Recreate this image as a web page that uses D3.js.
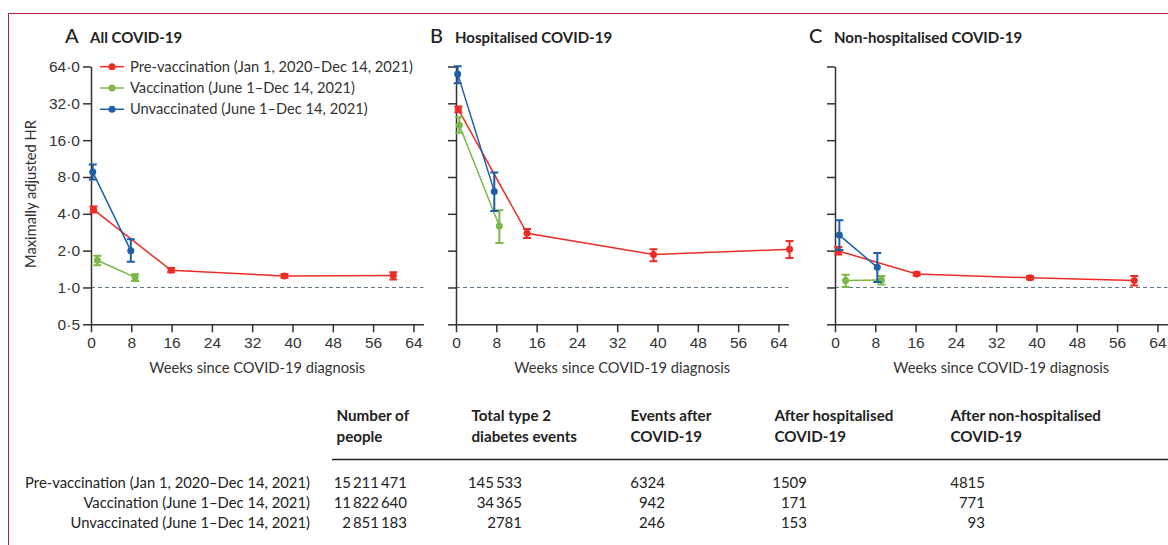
<!DOCTYPE html>
<html>
<head>
<meta charset="utf-8">
<script src="https://cdn.jsdelivr.net/npm/d3@7"></script>
<style>
    body { margin: 0; background: #fff; }
    svg { display: block; font-family: Lato, "Open Sans", sans-serif; }
</style>
</head>
<body>
<div id="chart"></div>
<script>
// axis ticks
var weekTicks = [0, 8, 16, 24, 32, 40, 48, 56, 64];
var hrTicks = [0.5, 1, 2, 4, 8, 16, 32, 64];

// series: [weeks since diagnosis, HR, lower CI, upper CI]
var allPre = [[0.5, 4.33, 4.1, 4.6], [15.9, 1.38, 1.33, 1.44], [38.4, 1.24, 1.2, 1.29], [60, 1.25, 1.16, 1.33]];
var allVac = [[1.25, 1.67, 1.52, 1.82], [8.75, 1.21, 1.13, 1.28]];
var allUnvac = [[0.35, 8.77, 7.64, 10.1], [7.9, 2.0, 1.62, 2.48]];

var hospPre = [[0.46, 28.6, 27.1, 30.1], [14.1, 2.77, 2.54, 3.0], [39.2, 1.86, 1.64, 2.05], [66.2, 2.05, 1.74, 2.4]];
var hospVac = [[0.66, 21.2, 18.4, 24.6], [8.6, 3.18, 2.31, 4.27]];
var hospUnvac = [[0.33, 55.7, 46.7, 64.3], [7.6, 6.1, 4.22, 8.72]];

var nonHospPre = [[0.66, 1.99, 1.86, 2.14], [16.2, 1.29, 1.25, 1.33], [38.7, 1.2, 1.16, 1.24], [59.4, 1.14, 1.04, 1.24]];
var nonHospVac = [[2.1, 1.14, 1.01, 1.27], [9.2, 1.15, 1.06, 1.24]];
var nonHospUnvac = [[0.86, 2.68, 2.02, 3.54], [8.4, 1.46, 1.11, 1.91]];

var seriesNames = ['Pre-vaccination (Jan 1, 2020\u2013Dec 14, 2021)', 'Vaccination (June 1\u2013Dec 14, 2021)', 'Unvaccinated (June 1\u2013Dec 14, 2021)'];
var seriesColors = ['#ec2d26', '#79b845', '#1b5ea9'];

// table
var tableHeaders = [['Number of', 'people'], ['Total type 2', 'diabetes events'], ['Events after', 'COVID-19'], ['After hospitalised', 'COVID-19'], ['After non-hospitalised', 'COVID-19']];
var numPeople = [15211471, 11822640, 2851183];
var totalEvents = [145533, 34365, 2781];
var eventsAfter = [6324, 942, 246];
var afterHosp = [1509, 171, 153];
var afterNonHosp = [4815, 771, 93];

var panels = [
    { letter: 'A', title: 'All COVID-19', left: 91, series: [allPre, allVac, allUnvac] },
    { letter: 'B', title: 'Hospitalised COVID-19', left: 456, series: [hospPre, hospVac, hospUnvac] },
    { letter: 'C', title: 'Non-hospitalised COVID-19', left: 835, series: [nonHospPre, nonHospVac, nonHospUnvac] }
];

var svg = d3.select('#chart').append('svg')
    .attr('width', 1168)
    .attr('height', 545);

// frame
svg.append('path')
    .attr('d', 'M8.5,545V13.5H1168')
    .attr('fill', 'none')
    .attr('stroke', '#c8143f')
    .attr('stroke-width', 1);

var y = d3.scaleLog().base(2).domain([0.5, 64]).range([324.3, 66.5]);
var ink = '#333';

var decimal = function (d) {
    return d3.format('.1f')(d).replace('.', '\u00b7');
};

panels.forEach(function (p, pi) {
    var x = d3.scaleLinear().domain([0, 66]).range([p.left, p.left + 332.5]);
    var g = svg.append('g');

    // title
    var t = g.append('text')
        .attr('x', p.left - 26)
        .attr('y', 43)
        .attr('fill', '#222');
    t.append('tspan').attr('font-size', 20).attr('font-weight', 500).text(p.letter);
    t.append('tspan').attr('x', p.left - 1).attr('font-size', 15).attr('font-weight', 'bold').text(p.title);

    // reference line HR = 1
    g.append('line')
        .attr('x1', x(0)).attr('x2', x(66))
        .attr('y1', y(1)).attr('y2', y(1))
        .attr('stroke', '#5d7684')
        .attr('stroke-dasharray', '4,3');

    var yAxis = d3.axisLeft(y).tickValues(hrTicks).tickSize(8).tickSizeOuter(0)
        .tickFormat(pi === 0 ? decimal : '');
    var xAxis = d3.axisBottom(x).tickValues(weekTicks).tickSize(8).tickSizeOuter(0).tickPadding(5);

    g.append('g').attr('transform', 'translate(' + x(0) + ',0)').call(yAxis);
    g.append('g').attr('transform', 'translate(0,' + y(0.5) + ')').call(xAxis);

    g.selectAll('.domain, .tick line').attr('stroke', ink).attr('stroke-width', 1.5);
    g.selectAll('.tick text').attr('fill', ink).attr('font-size', 15.5).attr('font-family', null);

    g.append('text')
        .attr('x', x(33))
        .attr('y', 373)
        .attr('text-anchor', 'middle')
        .attr('font-size', 14.7)
        .attr('fill', ink)
        .text('Weeks since COVID-19 diagnosis');

    // series
    p.series.forEach(function (s, si) {
        var col = seriesColors[si];
        var line = d3.line()
            .x(function (d) { return x(d[0]); })
            .y(function (d) { return y(d[1]); });

        g.append('path')
            .attr('d', line(s))
            .attr('fill', 'none')
            .attr('stroke', col)
            .attr('stroke-width', 1.5);

        var pts = g.selectAll(null).data(s).enter().append('g');
        pts.append('path')
            .attr('d', function (d) {
                var cx = x(d[0]), lo = y(d[2]), hi = y(d[3]);
                return 'M' + (cx - 4) + ',' + hi + 'H' + (cx + 4) +
                    'M' + cx + ',' + hi + 'V' + lo +
                    'M' + (cx - 4) + ',' + lo + 'H' + (cx + 4);
            })
            .attr('fill', 'none')
            .attr('stroke', col)
            .attr('stroke-width', 2);
        pts.append('circle')
            .attr('cx', function (d) { return x(d[0]); })
            .attr('cy', function (d) { return y(d[1]); })
            .attr('r', 3.5)
            .attr('fill', col);
    });
});

// y label
svg.append('text')
    .attr('transform', 'translate(36,194) rotate(-90)')
    .attr('text-anchor', 'middle')
    .attr('font-size', 14.7)
    .attr('fill', ink)
    .text('Maximally adjusted HR');

// legend
var legend = svg.append('g');
seriesNames.forEach(function (name, i) {
    var ly = 66.7 + i * 21.3;
    legend.append('line')
        .attr('x1', 100).attr('x2', 124)
        .attr('y1', ly).attr('y2', ly)
        .attr('stroke', seriesColors[i])
        .attr('stroke-width', 1.5);
    legend.append('circle')
        .attr('cx', 112).attr('cy', ly).attr('r', 3.5)
        .attr('fill', seriesColors[i]);
    legend.append('text')
        .attr('x', 130).attr('y', ly)
        .attr('dy', '0.35em')
        .attr('font-size', 14.7)
        .attr('fill', ink)
        .text(name);
});

// table
var fmtThin = d3.formatLocale({ decimal: '.', thousands: '\u2009', grouping: [3], currency: ['', ''] }).format(',d');
var fmtNum = function (v) {
    return v >= 10000 ? fmtThin(v) : String(v);
};
var colLeft = [336.5, 471.5, 630.5, 774.5, 950.5];
var colRight = [407, 522, 665, 807, 985];
var columns = [numPeople, totalEvents, eventsAfter, afterHosp, afterNonHosp];
var rowY = [487.5, 507.5, 527.5];

var table = svg.append('g').attr('fill', '#222');

tableHeaders.forEach(function (h, i) {
    h.forEach(function (line, li) {
        table.append('text')
            .attr('x', colLeft[i])
            .attr('y', 421 + li * 21)
            .attr('font-size', 15.2)
            .attr('font-weight', 'bold')
            .text(line);
    });
});

table.append('line')
    .attr('x1', 332).attr('x2', 1168)
    .attr('y1', 459.5).attr('y2', 459.5)
    .attr('stroke', '#222')
    .attr('stroke-width', 1.5);

seriesNames.forEach(function (name, r) {
    table.append('text')
        .attr('x', 310)
        .attr('y', rowY[r])
        .attr('text-anchor', 'end')
        .attr('font-size', 14.8)
        .text(name);
    columns.forEach(function (col, c) {
        table.append('text')
            .attr('x', colRight[c])
            .attr('y', rowY[r])
            .attr('text-anchor', 'end')
            .attr('font-size', 15)
            .text(fmtNum(col[r]));
    });
});
</script>
</body>
</html>
